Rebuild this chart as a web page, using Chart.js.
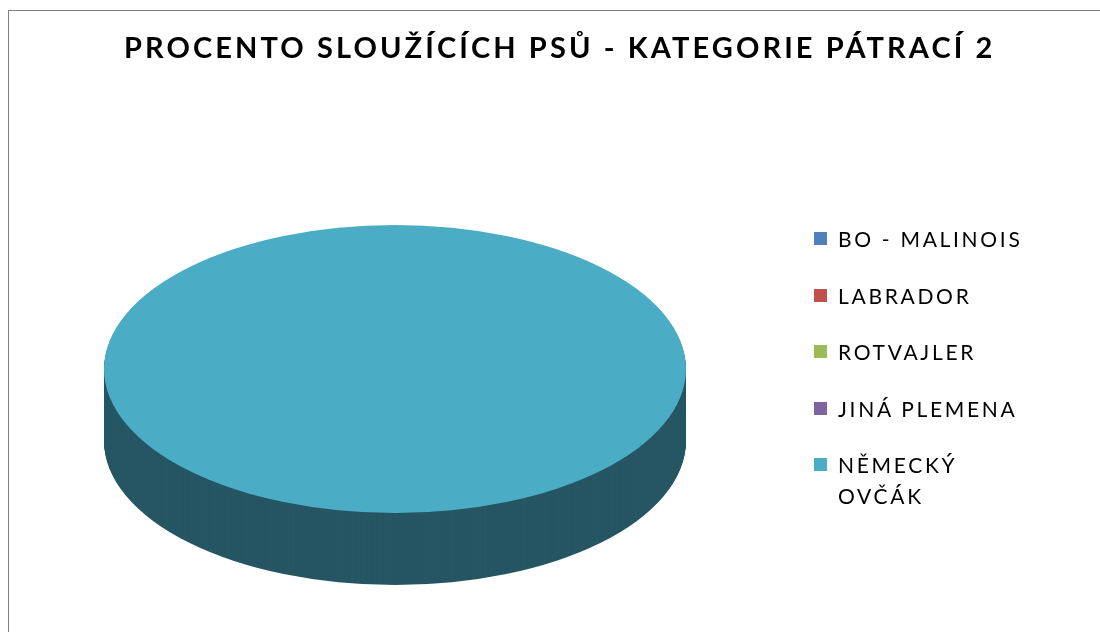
<!DOCTYPE html>
<html lang="cs">
<head>
<meta charset="utf-8">
<title>Procento sloužících psů</title>
<script src="https://cdn.jsdelivr.net/npm/chart.js@4/dist/chart.umd.min.js"></script>
<style>
    html, body { margin: 0; padding: 0; background: #fff; }
    .frame {
        position: relative;
        width: 1100px;
        height: 632px;
        overflow: hidden;
        font-family: Lato, "Open Sans", sans-serif;
        color: #000;
    }
    .frame::before {
        content: '';
        position: absolute;
        left: 8px; top: 10px; right: -2px; bottom: -2px;
        border-top: 1px solid #808080;
        border-left: 1px solid #808080;
    }
    #pieChart { position: absolute; left: 0; top: 0; }
    .title {
        position: absolute;
        left: 124px;
        top: 29px;
        font-weight: 700;
        font-size: 29px;
        letter-spacing: 3.1px;
        white-space: nowrap;
    }
    .legend {
        position: absolute;
        left: 814px;
        top: 223px;
        width: 234px;
        margin: 0; padding: 0;
        list-style: none;
    }
    .legend li {
        position: relative;
        padding-left: 24px;
        height: 56.5px;
        font-size: 21px;
        line-height: 31px;
        letter-spacing: 2.7px;
    }
    .legend li span.box {
        position: absolute;
        left: 0; top: 9px;
        width: 13px; height: 13px;
    }
</style>
</head>
<body>
<div class="frame">
    <canvas id="pieChart" width="1100" height="632"></canvas>
    <div class="title" id="chartTitle"></div>
    <ul class="legend" id="chartLegend"></ul>
</div>
<script>
// ---- data ----
const chartTitle = 'PROCENTO SLOUŽÍCÍCH PSŮ - KATEGORIE PÁTRACÍ 2';
const breeds = ['BO - MALINOIS', 'LABRADOR', 'ROTVAJLER', 'JINÁ PLEMENA', 'NĚMECKÝ OVČÁK'];
const percentages = [0, 0, 0, 0, 100];
const breedColors = ['#4F81BD', '#C0504D', '#9BBB59', '#8064A2', '#4BACC6'];

// darker shade for the side of the 3D pie
function shade(hex, f) {
    const n = parseInt(hex.slice(1), 16);
    const r = Math.round(((n >> 16) & 255) * f);
    const g = Math.round(((n >> 8) & 255) * f);
    const b = Math.round((n & 255) * f);
    return 'rgb(' + r + ',' + g + ',' + b + ')';
}

// flatten the pie into an ellipse and give it some depth
const pie3d = {
    id: 'pie3d',
    beforeDatasetsDraw(chart, args, opts) {
        const ctx = chart.ctx;
        const arcs = chart.getDatasetMeta(0).data;
        if (!arcs.length) return;
        const cx = arcs[0].x, cy = arcs[0].y;
        const k = opts.tilt;
        const place = function () {
            ctx.translate(cx, opts.centerY);
            ctx.scale(1, k);
            ctx.translate(-cx, -cy);
        };
        // side walls
        for (let d = opts.depth; d > 0; d--) {
            ctx.save();
            ctx.translate(0, d);
            place();
            arcs.forEach(function (a, i) {
                if (a.endAngle - a.startAngle <= 0) return;
                ctx.beginPath();
                ctx.moveTo(a.x, a.y);
                ctx.arc(a.x, a.y, a.outerRadius, a.startAngle, a.endAngle);
                ctx.closePath();
                ctx.fillStyle = shade(breedColors[i], 0.5);
                ctx.fill();
            });
            ctx.restore();
        }
        // top face is drawn by chart.js under this transform
        ctx.save();
        place();
    },
    afterDatasetsDraw(chart) {
        chart.ctx.restore();
    }
};

document.addEventListener('DOMContentLoaded', function () {
    document.getElementById('chartTitle').textContent = chartTitle;

    const legend = document.getElementById('chartLegend');
    breeds.forEach(function (name, i) {
        const li = document.createElement('li');
        const box = document.createElement('span');
        box.className = 'box';
        box.style.background = breedColors[i];
        li.appendChild(box);
        li.appendChild(document.createTextNode(name));
        legend.appendChild(li);
    });

    new Chart(document.getElementById('pieChart'), {
        type: 'pie',
        data: {
            labels: breeds,
            datasets: [{
                data: percentages,
                backgroundColor: breedColors,
                borderWidth: 0,
                clip: false
            }]
        },
        options: {
            responsive: false,
            animation: false,
            events: [],
            layout: { padding: { left: 104, right: 414, top: 25, bottom: 25 } },
            plugins: {
                legend: { display: false },
                title: { display: false },
                tooltip: { enabled: false },
                pie3d: { tilt: 144 / 291, centerY: 369, depth: 72 }
            }
        },
        plugins: [pie3d]
    });
});
</script>
</body>
</html>
